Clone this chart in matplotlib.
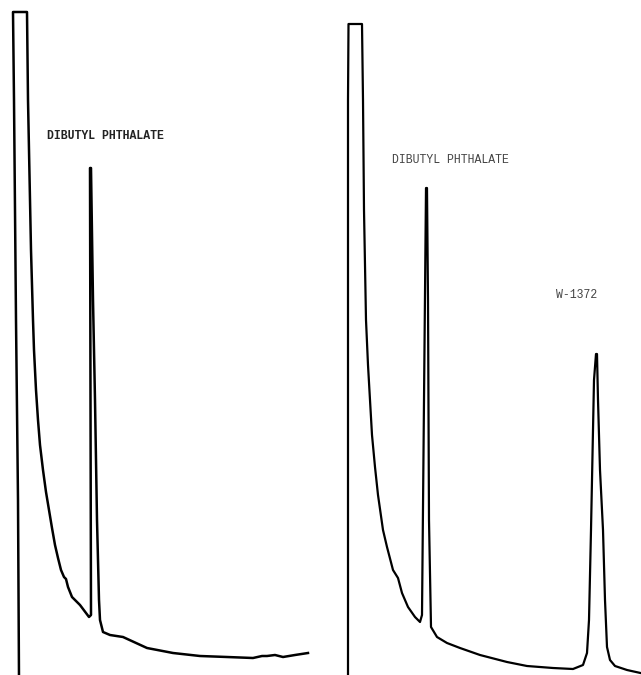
import matplotlib
matplotlib.use("Agg")
import matplotlib.pyplot as plt

# Left chromatogram (retention position, detector response)
left_time = [19, 18, 16, 14, 13, 27, 28, 29, 30, 31, 33, 34, 36, 38, 40, 43, 46, 49, 52, 55, 58,
             61, 64, 66, 68, 72, 80, 86, 89, 91, 90.5, 90, 91, 93, 95, 97, 99, 100, 103, 110, 123,
             147, 173, 200, 227, 253, 262, 267, 275, 283, 295, 308]
left_signal = [-5, 175, 355, 575, 663, 663, 575, 525, 475, 425, 355, 325, 285, 255, 230, 205,
               183, 165, 147, 130, 117, 105, 98, 96, 88, 78, 70, 62, 58, 60, 275, 507, 507, 375,
               275, 155, 75, 55, 43, 40, 38, 27, 22, 19, 18, 17, 19, 19, 20, 18, 20, 22]

# Right chromatogram
right_time = [348, 348, 348, 348.5, 362, 363, 364, 366, 368, 370, 372, 375, 378, 383, 387, 393,
              398, 402, 408, 415, 420, 422, 424, 426, 427, 428, 429, 431, 437, 447, 460, 480,
              507, 527, 553, 573, 583, 587, 589, 591, 594, 596, 597, 598, 600, 603, 605, 607,
              610, 615, 627, 645]
right_signal = [-5, 275, 575, 651, 651, 575, 465, 355, 310, 275, 240, 208, 180, 145, 128, 105,
                97, 82, 68, 58, 53, 60, 275, 487, 487, 375, 155, 48, 38, 32, 27, 20, 13, 9, 7,
                6, 10, 22, 55, 145, 295, 321, 321, 275, 205, 145, 75, 28, 15, 9, 5, 1]

# Peak labels: (text, position, response)
left_labels = [("DIBUTYL PHTHALATE", 47, 539)]
right_labels = [("DIBUTYL PHTHALATE", 392, 515), ("W-1372", 556, 380)]

fig = plt.figure(figsize=(6.41, 6.75), dpi=100)
ax = fig.add_axes([0, 0, 1, 1])
ax.set_xlim(0, 641)
ax.set_ylim(0, 675)
ax.axis("off")

ax.plot(left_time, left_signal, color="black", lw=1.8, solid_joinstyle="round")
ax.plot(right_time, right_signal, color="black", lw=1.6, solid_joinstyle="round")

for txt, x, y in left_labels:
    ax.text(x, y, txt, fontsize=8.3, family="Liberation Mono", fontweight="bold",
            color="#222222", va="center", ha="left")
for txt, x, y in right_labels:
    ax.text(x, y, txt, fontsize=8.3, family="Liberation Mono",
            color="#444444", va="center", ha="left")

fig.savefig("out.png", dpi=100)
